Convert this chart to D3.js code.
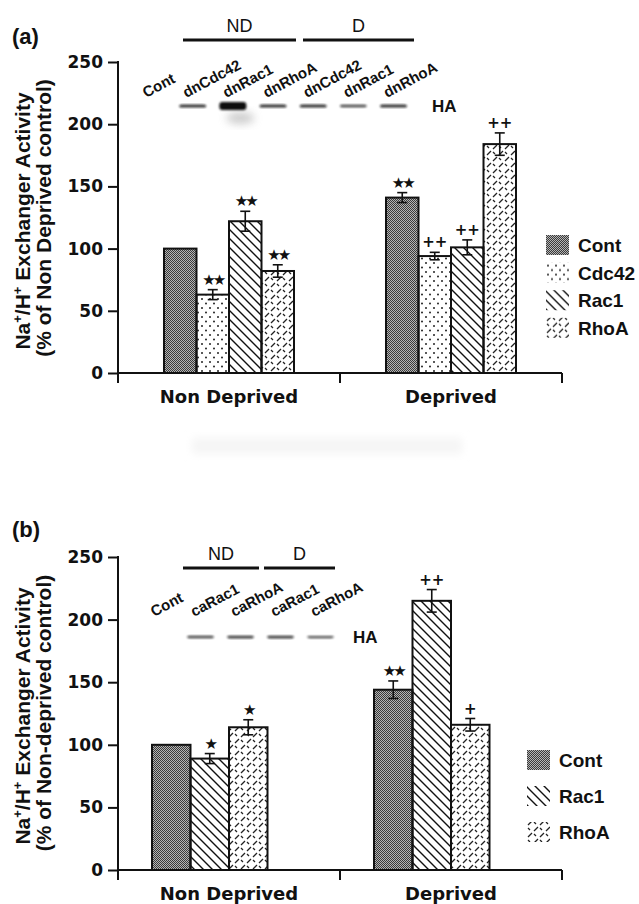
<!DOCTYPE html>
<html>
<head>
<meta charset="utf-8">
<script src="https://cdn.jsdelivr.net/npm/d3@7"></script>
<style>
    body { margin: 0; background: #fff; }
    svg text { fill: #111; }
</style>
</head>
<body>
<svg id="chart" width="639" height="904"></svg>
<script>
// Shared categories
const groups = ['Non Deprived', 'Deprived'];
const yTicks = [0, 50, 100, 150, 200, 250];

// Panel (a): dominant-negative constructs
const seriesA = ['Cont', 'Cdc42', 'Rac1', 'RhoA'];
const valuesA = [[100, 63, 122, 82], [141, 94, 101, 184]];
const errorsA = [[0, 4, 8, 5], [4, 3, 6, 9]];
const signsA = [['', '★★', '★★', '★★'], ['★★', '++', '++', '++']];
const lanesA = ['Cont', 'dnCdc42', 'dnRac1', 'dnRhoA', 'dnCdc42', 'dnRac1', 'dnRhoA'];
const signalA = [0, 1, 3, 1, 1, 0.8, 1];

// Panel (b): constitutively active constructs
const seriesB = ['Cont', 'Rac1', 'RhoA'];
const valuesB = [[100, 89, 114], [144, 215, 116]];
const errorsB = [[0, 4, 6], [7, 9, 5]];
const signsB = [['', '★', '★'], ['★★', '++', '+']];
const lanesB = ['Cont', 'caRac1', 'caRhoA', 'caRac1', 'caRhoA'];
const signalB = [0, 0.8, 0.9, 0.9, 0.7];

const svg = d3.select('#chart');
const defs = svg.append('defs');

// Fill patterns
function pattern(id, w, h) {
    return defs.append('pattern').attr('id', id)
        .attr('patternUnits', 'userSpaceOnUse')
        .attr('width', w).attr('height', h);
}
const pCont = pattern('pCont', 2, 2);
pCont.append('rect').attr('width', 2).attr('height', 2).attr('fill', '#b4b4b4');
pCont.append('rect').attr('width', 1).attr('height', 1).attr('fill', '#3a3a3a');
pCont.append('rect').attr('x', 1).attr('y', 1).attr('width', 1).attr('height', 1).attr('fill', '#3a3a3a');

const pCdc = pattern('pCdc42', 8, 9);
pCdc.append('circle').attr('cx', 2).attr('cy', 2).attr('r', 1).attr('fill', '#222');
pCdc.append('circle').attr('cx', 6).attr('cy', 6.5).attr('r', 1).attr('fill', '#222');

const pRac = pattern('pRac1', 9, 9);
pRac.append('path').attr('d', 'M-1,-1L10,10M-1,8L1,10M8,-1L10,1')
    .attr('stroke', '#111').attr('stroke-width', 1.4);

// short "/" dashes in a staggered grid with small "\" ticks
const pRho = pattern('pRhoA', 12, 12);
pRho.append('path')
    .attr('d', 'M1,5L5,1M7,11L11,7M7,2L9,4M1,8L3,10')
    .attr('stroke', '#222').attr('stroke-width', 1.3);

const fills = { Cont: 'url(#pCont)', Cdc42: 'url(#pCdc42)', Rac1: 'url(#pRac1)', RhoA: 'url(#pRhoA)' };

const blur = defs.append('filter').attr('id', 'blur').attr('x', '-50%').attr('y', '-50%').attr('width', '200%').attr('height', '200%');
blur.append('feGaussianBlur').attr('stdDeviation', 0.9);
const blurWide = defs.append('filter').attr('id', 'blurWide').attr('x', '-50%').attr('y', '-50%').attr('width', '200%').attr('height', '200%');
blurWide.append('feGaussianBlur').attr('stdDeviation', 4);

// faint smudge between the panels
svg.append('rect').attr('x', 192).attr('y', 438).attr('width', 270).attr('height', 16)
    .attr('fill', '#f5f5f5').attr('filter', 'url(#blurWide)');

function drawPanel(o) {
    const g = svg.append('g');

    const x0 = d3.scaleBand().domain(groups).range([118, 562]);
    const x1 = d3.scaleBand().domain(d3.range(4))
        .range([0, x0.bandwidth()]).paddingOuter(o.pad);
    const y = d3.scaleLinear().domain([0, 250]).range([o.yBottom, o.yTop]);

    // panel letter
    g.append('text').attr('x', 12).attr('y', o.letterY)
        .attr('font-family', 'Liberation Sans, Arial, sans-serif')
        .attr('font-weight', 'bold').attr('font-size', 22)
        .text(o.letter);

    // y axis
    const yAxis = g.append('g').attr('transform', 'translate(118,0)')
        .call(d3.axisLeft(y).tickValues(yTicks).tickSize(10).tickSizeOuter(0).tickPadding(5));
    yAxis.select('.domain').remove();
    yAxis.selectAll('line').attr('stroke', '#111').attr('stroke-width', 2);
    yAxis.selectAll('text')
        .attr('font-family', 'DejaVu Sans, sans-serif')
        .attr('font-weight', 'bold').attr('font-size', 17).attr('fill', '#111');

    g.append('line').attr('x1', 118).attr('x2', 118)
        .attr('y1', y(250) - 1).attr('y2', y(0) + 10)
        .attr('stroke', '#111').attr('stroke-width', 2);

    // x axis
    g.append('line').attr('x1', 118).attr('x2', x0.range()[1])
        .attr('y1', y(0)).attr('y2', y(0))
        .attr('stroke', '#111').attr('stroke-width', 2);
    g.selectAll('.xtick').data(groups).enter().append('line')
        .attr('x1', d => x0(d) + x0.bandwidth()).attr('x2', d => x0(d) + x0.bandwidth())
        .attr('y1', y(0)).attr('y2', y(0) + 10)
        .attr('stroke', '#111').attr('stroke-width', 2);
    g.selectAll('.xlab').data(groups).enter().append('text')
        .attr('x', d => x0(d) + x0.bandwidth() / 2)
        .attr('y', y(0) + 30)
        .attr('text-anchor', 'middle')
        .attr('font-family', 'DejaVu Sans, sans-serif')
        .attr('font-weight', 'bold').attr('font-size', 18)
        .text(d => d);

    // y label
    const labFont = 'Liberation Sans, Arial, sans-serif';
    const t1 = g.append('text')
        .attr('transform', `translate(30,${o.labelY}) rotate(-90)`)
        .attr('text-anchor', 'middle').attr('font-family', labFont)
        .attr('font-weight', 'bold').attr('font-size', 21);
    t1.append('tspan').text('Na');
    t1.append('tspan').attr('font-size', 13).attr('dy', -8).text('+');
    t1.append('tspan').attr('dy', 8).text('/H');
    t1.append('tspan').attr('font-size', 13).attr('dy', -8).text('+');
    t1.append('tspan').attr('dy', 8).text(' Exchanger Activity');
    g.append('text')
        .attr('transform', `translate(51,${o.labelY - 3}) rotate(-90)`)
        .attr('text-anchor', 'middle').attr('font-family', labFont)
        .attr('font-weight', 'bold').attr('font-size', 21)
        .text(o.label2);

    // bars
    const rows = [];
    groups.forEach((grp, gi) => {
        o.series.forEach((s, si) => {
            rows.push({ grp, s, si, v: o.values[gi][si], e: o.errors[gi][si], sign: o.signs[gi][si] });
        });
    });
    const bx = d => x0(d.grp) + x1(d.si);
    const bw = x1.bandwidth();

    g.selectAll('.bar').data(rows).enter().append('rect')
        .attr('x', bx).attr('width', bw)
        .attr('y', d => y(d.v)).attr('height', d => y(0) - y(d.v))
        .attr('fill', d => fills[d.s])
        .attr('stroke', '#111').attr('stroke-width', 2);

    // error bars
    const err = g.selectAll('.err').data(rows.filter(d => d.e > 0)).enter().append('g')
        .attr('stroke', '#111').attr('stroke-width', 1.6);
    err.append('line')
        .attr('x1', d => bx(d) + bw / 2).attr('x2', d => bx(d) + bw / 2)
        .attr('y1', d => y(d.v + d.e)).attr('y2', d => y(d.v - d.e));
    err.append('line')
        .attr('x1', d => bx(d) + bw / 2 - 5).attr('x2', d => bx(d) + bw / 2 + 5)
        .attr('y1', d => y(d.v + d.e)).attr('y2', d => y(d.v + d.e));
    err.append('line')
        .attr('x1', d => bx(d) + bw / 2 - 5).attr('x2', d => bx(d) + bw / 2 + 5)
        .attr('y1', d => y(d.v - d.e)).attr('y2', d => y(d.v - d.e));

    // significance marks
    g.selectAll('.sig').data(rows.filter(d => d.sign)).enter().append('text')
        .attr('x', d => bx(d) + bw / 2)
        .attr('y', d => y(d.v + d.e) - 5)
        .attr('text-anchor', 'middle')
        .attr('font-family', 'DejaVu Sans, sans-serif')
        .attr('font-weight', 'bold')
        .attr('font-size', 15)
        .attr('letter-spacing', d => d.sign.includes('★') ? -3 : 0)
        .text(d => d.sign);

    // legend
    const leg = g.selectAll('.leg').data(o.series).enter().append('g')
        .attr('transform', (d, i) => `translate(${o.legX},${o.legY + i * o.legStep})`);
    leg.append('rect').attr('x', 0).attr('y', -10).attr('width', 23).attr('height', 20)
        .attr('fill', d => fills[d]);
    leg.append('text').attr('x', 32).attr('y', 7)
        .attr('font-family', labFont).attr('font-weight', 'bold').attr('font-size', 19)
        .text(d => d);

    // western blot inset
    const lane = d3.scalePoint().domain(d3.range(o.lanes.length)).range(o.laneRange);
    const b = o.blot;
    b.headers.forEach(h => {
        g.append('line').attr('x1', h.x1).attr('x2', h.x2).attr('y1', b.lineY).attr('y2', b.lineY)
            .attr('stroke', '#111').attr('stroke-width', 3);
        g.append('text').attr('x', (h.x1 + h.x2) / 2).attr('y', b.lineY - 8)
            .attr('text-anchor', 'middle').attr('font-family', labFont).attr('font-size', 18)
            .text(h.t);
    });
    g.selectAll('.lane').data(o.lanes).enter().append('text')
        .attr('transform', (d, i) => `translate(${lane(i) - 6},${b.labelY}) rotate(-28)`)
        .attr('font-family', labFont).attr('font-weight', 'bold').attr('font-size', 15)
        .attr('fill', '#222')
        .text(d => d);
    const bands = o.signal.map((s, i) => ({ s, i })).filter(d => d.s > 0);
    g.selectAll('.smear').data(bands.filter(d => d.s > 2)).enter().append('ellipse')
        .attr('cx', d => lane(d.i) + 8).attr('cy', b.bandY + 12)
        .attr('rx', 14).attr('ry', 6).attr('fill', '#aaa').attr('opacity', 0.6)
        .attr('filter', 'url(#blurWide)');
    g.selectAll('.band').data(bands).enter().append('rect')
        .attr('x', d => lane(d.i) - 13).attr('width', 27)
        .attr('y', d => b.bandY - (3 + (d.s - 1) * 2.5) / 2)
        .attr('height', d => 3 + (d.s - 1) * 2.5)
        .attr('rx', 3)
        .attr('fill', '#111')
        .attr('opacity', d => Math.min(1, 0.5 + 0.35 * d.s))
        .attr('filter', 'url(#blur)');
    g.append('text').attr('x', b.haX).attr('y', b.bandY + 6)
        .attr('font-family', labFont).attr('font-weight', 'bold').attr('font-size', 17)
        .text('HA');
}

drawPanel({
    letter: '(a)', letterY: 44,
    yBottom: 373, yTop: 62, pad: 1.415,
    series: seriesA, values: valuesA, errors: errorsA, signs: signsA,
    labelY: 221, label2: '(% of Non Deprived control)',
    legX: 546, legY: 245, legStep: 27.6,
    lanes: lanesA, signal: signalA, laneRange: [152, 393],
    blot: {
        lineY: 40, labelY: 98, bandY: 106, haX: 432,
        headers: [{ t: 'ND', x1: 183, x2: 296 }, { t: 'D', x1: 303, x2: 414 }]
    }
});

drawPanel({
    letter: '(b)', letterY: 537,
    yBottom: 870, yTop: 557, pad: 0.883,
    series: seriesB, values: valuesB, errors: errorsB, signs: signsB,
    labelY: 716, label2: '(% of Non-deprived control)',
    legX: 527, legY: 760, legStep: 36,
    lanes: lanesB, signal: signalB, laneRange: [160, 320],
    blot: {
        lineY: 568, labelY: 617, bandY: 637, haX: 353,
        headers: [{ t: 'ND', x1: 183, x2: 259 }, { t: 'D', x1: 264, x2: 335 }]
    }
});
</script>
</body>
</html>
